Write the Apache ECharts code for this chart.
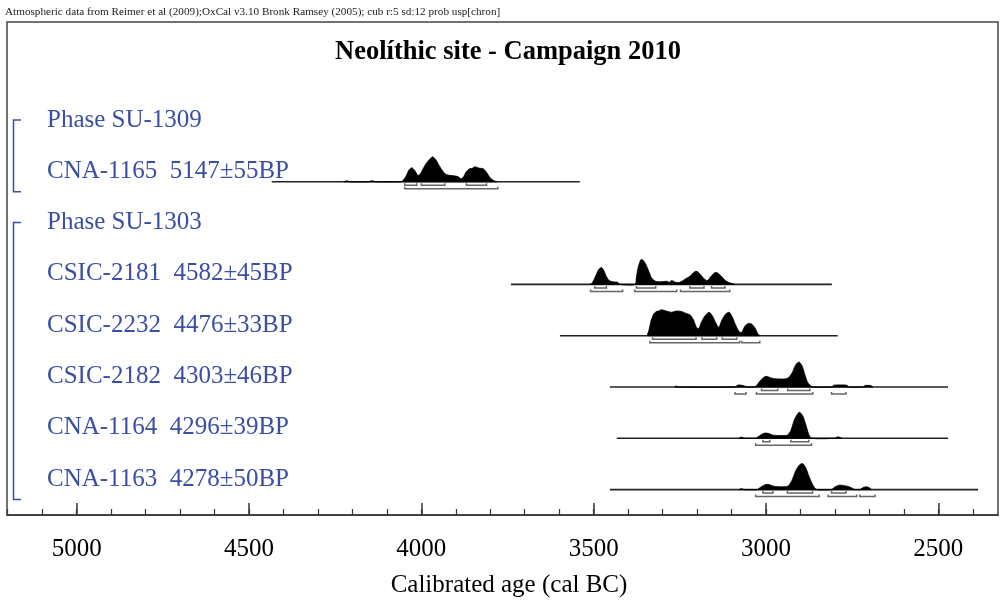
<!DOCTYPE html>
<html>
<head>
<meta charset="utf-8">
<script src="https://cdn.jsdelivr.net/npm/echarts@6/dist/echarts.min.js"></script>
<style>
html,body{margin:0;padding:0;background:#fff;}
#chart{width:1001px;height:601px;}
</style>
</head>
<body>
<div id="chart"></div>
<script>
// ---------- DATA ----------
const headerText = 'Atmospheric data from Reimer et al (2009);OxCal v3.10 Bronk Ramsey (2005); cub r:5 sd:12 prob usp[chron]';
const chartTitle = 'Neolíthic site - Campaign 2010';
const axisTitle = 'Calibrated age (cal BC)';
const rowLabels = ['Phase SU-1309', 'CNA-1165  5147±55BP', 'Phase SU-1303', 'CSIC-2181  4582±45BP',
  'CSIC-2232  4476±33BP', 'CSIC-2182  4303±46BP', 'CNA-1164  4296±39BP', 'CNA-1163  4278±50BP'];
const majorTicks = [5000, 4500, 4000, 3500, 3000, 2500];
const minorTicks = [5200, 5100, 5000, 4900, 4800, 4700, 4600, 4500, 4400, 4300, 4200, 4100, 4000, 3900, 3800, 3700, 3600, 3500, 3400, 3300, 3200, 3100, 3000, 2900, 2800, 2700, 2600, 2500, 2400];

// phases: [first row, last row]
const phaseSU1309 = [0, 1];
const phaseSU1303 = [2, 7];

// sample rows (index into rowLabels)
const sampleRows = [1, 3, 4, 5, 6, 7];
// plotted extents (cal BC, from, to)
const extentCNA1165 = [4434, 3540];
const extentCSIC2181 = [3740, 2809];
const extentCSIC2232 = [3598, 2792];
const extentCSIC2182 = [3453, 2472];
const extentCNA1164 = [3433, 2472];
const extentCNA1163 = [3453, 2385];

// relative probability (year cal BC, relative prob)
const probCNA1165 = [[4225,0],[4216,0.04],[4207,0],[4155,0],[4144,0.04],[4130,0],
  [4060,0],[4054,0.04],[4045,0.2],[4036,0.45],[4028,0.54],[4020,0.45],[4010,0.25],[4003,0.3],[3995,0.5],[3985,0.72],
  [3975,0.88],[3967,0.96],[3958,0.85],[3948,0.62],[3940,0.45],[3932,0.32],[3923,0.26],[3905,0.23],[3894,0.2],
  [3885,0.12],[3878,0.18],[3870,0.38],[3860,0.5],[3852,0.52],[3845,0.58],[3838,0.55],[3830,0.52],[3820,0.5],
  [3810,0.35],[3800,0.15],[3790,0.05],[3781,0]];
const probCSIC2181 = [[3510,0],[3503,0.08],[3495,0.3],[3485,0.58],[3477,0.65],[3470,0.52],[3463,0.3],[3455,0.15],
  [3445,0.1],[3430,0.08],[3424,0],
  [3380,0],[3376,0.3],[3370,0.7],[3363,0.95],[3356,0.92],[3348,0.75],[3340,0.5],[3332,0.25],[3320,0.12],
  [3305,0.1],[3289,0.12],[3280,0.08],[3274,0.15],[3262,0.08],[3250,0.08],[3235,0.2],[3220,0.32],[3208,0.48],
  [3200,0.5],[3190,0.38],[3180,0.22],[3170,0.15],[3160,0.3],[3150,0.44],[3142,0.45],[3130,0.32],[3118,0.15],
  [3105,0.06],[3090,0]];
const probCSIC2232 = [[3345,0],[3340,0.2],[3333,0.6],[3325,0.85],[3318,0.93],[3310,0.96],[3303,1.0],[3290,0.95],
  [3274,0.9],[3260,0.95],[3245,0.93],[3231,0.85],[3220,0.8],[3210,0.6],[3202,0.32],[3195,0.28],[3188,0.5],
  [3178,0.75],[3165,0.9],[3155,0.75],[3146,0.5],[3137,0.32],[3128,0.6],[3118,0.82],[3107,0.9],[3097,0.7],
  [3088,0.4],[3078,0.16],[3071,0.12],[3062,0.35],[3052,0.47],[3042,0.45],[3032,0.3],[3024,0.08],[3018,0]];
const probCSIC2182 = [[3265,0],[3260,0.04],[3255,0],[3092,0],[3080,0.08],[3065,0.05],[3053,0],
  [3035,0],[3028,0.05],[3018,0.22],[3008,0.36],[2999,0.41],[2988,0.36],[2975,0.32],[2960,0.31],[2945,0.31],
  [2935,0.36],[2924,0.55],[2914,0.85],[2904,0.96],[2895,0.8],[2888,0.5],[2878,0.15],[2864,0],
  [2808,0],[2804,0.07],[2765,0.07],[2760,0],[2720,0],[2712,0.06],[2695,0.05],[2690,0]];
const probCNA1164 = [[3078,0],[3071,0.05],[3064,0],[3030,0],[3024,0.05],[3014,0.14],[3004,0.2],[2994,0.19],
  [2982,0.13],[2970,0.11],[2950,0.11],[2937,0.13],[2928,0.3],[2918,0.7],[2908,0.95],[2902,1.0],[2893,0.85],
  [2884,0.5],[2876,0.15],[2867,0],[2800,0],[2792,0.06],[2780,0]];
const probCNA1163 = [[3078,0],[3071,0.04],[3064,0],[3025,0],[3020,0.05],[3010,0.14],[3000,0.2],[2990,0.19],
  [2978,0.13],[2960,0.11],[2945,0.11],[2935,0.15],[2925,0.35],[2914,0.72],[2903,0.95],[2894,1.0],[2885,0.85],
  [2875,0.5],[2865,0.2],[2853,0],
  [2810,0],[2806,0.04],[2798,0.12],[2788,0.17],[2775,0.16],[2762,0.12],[2752,0.07],[2742,0],
  [2728,0],[2720,0.07],[2710,0.11],[2700,0.07],[2694,0]];

// 68.2% and 95.4% ranges
const r68CNA1165 = [[4048,4013],[4000,3932],[3869,3811]];
const r95CNA1165 = [[4048,3778]];
const r68CSIC2181 = [[3497,3463],[3376,3320],[3221,3180],[3158,3119]];
const r95CSIC2181 = [[3509,3416],[3381,3259],[3248,3105]];
const r68CSIC2232 = [[3329,3203],[3186,3143],[3127,3085]];
const r95CSIC2232 = [[3337,3076],[3070,3018]];
const r68CSIC2182 = [[3013,2966],[2937,2873]];
const r95CSIC2182 = [[3090,3058],[3028,2864],[2810,2768]];
const r68CNA1164 = [[3009,2989],[2928,2876]];
const r95CNA1164 = [[3030,2868]];
const r68CNA1163 = [[3009,2980],[2938,2865],[2810,2768]];
const r95CNA1163 = [[3030,2846],[2820,2737],[2728,2684]];

// ---------- BUILD ----------
const samples = [
  {ext: extentCNA1165, prob: probCNA1165, r68: r68CNA1165, r95: r95CNA1165},
  {ext: extentCSIC2181, prob: probCSIC2181, r68: r68CSIC2181, r95: r95CSIC2181},
  {ext: extentCSIC2232, prob: probCSIC2232, r68: r68CSIC2232, r95: r95CSIC2232},
  {ext: extentCSIC2182, prob: probCSIC2182, r68: r68CSIC2182, r95: r95CSIC2182},
  {ext: extentCNA1164, prob: probCNA1164, r68: r68CNA1164, r95: r95CNA1164},
  {ext: extentCNA1163, prob: probCNA1163, r68: r68CNA1163, r95: r95CNA1163}
];
const phases = [phaseSU1309, phaseSU1303];

const X_MIN = 2327, X_MAX = 5202;
const BASE_OFF = 0.205;   // baseline below label centre, in row units
const DENS = 0.507;       // height of relative prob 1, in row units
const LABEL_BLUE = '#3b4ea3';
const SERIF = '"Liberation Serif", "Times New Roman", serif';

function renderSample(params, api) {
  const s = samples[params.dataIndex];
  const row = sampleRows[params.dataIndex];
  const base = row + BASE_OFF;
  const children = [];
  const a = api.coord([s.ext[0], base]);
  const b = api.coord([s.ext[1], base]);
  children.push({type: 'line', shape: {x1: a[0], y1: a[1], x2: b[0], y2: b[1]},
    style: {stroke: '#222', lineWidth: 1.6}});
  const pts = [api.coord([s.prob[0][0], base])];
  s.prob.forEach(p => pts.push(api.coord([p[0], base - p[1] * DENS])));
  pts.push(api.coord([s.prob[s.prob.length - 1][0], base]));
  children.push({type: 'polygon', shape: {points: pts, smooth: 0.25},
    style: {fill: '#000', stroke: '#000', lineWidth: 0.8}});
  const addBr = (ranges, dy) => {
    ranges.forEach(r => {
      const p1 = api.coord([r[0], base]);
      const p2 = api.coord([r[1], base]);
      const y = p1[1] + dy;
      children.push({type: 'polyline', shape: {points: [[p1[0], y - 2], [p1[0], y], [p2[0], y], [p2[0], y - 2]]},
        style: {stroke: '#666', lineWidth: 1.5, fill: null}});
    });
  };
  addBr(s.r68, 3.5);
  addBr(s.r95, 7);
  return {type: 'group', children: children};
}

function renderPhase(params, api) {
  const ph = phases[params.dataIndex];
  const top = api.coord([X_MAX, ph[0]]);
  const bot = api.coord([X_MAX, ph[1] + 0.4]);
  const x0 = top[0] + 6.5, x1 = top[0] + 14;
  return {type: 'polyline', shape: {points: [[x1, top[1]], [x0, top[1]], [x0, bot[1]], [x1, bot[1]]]},
    style: {stroke: LABEL_BLUE, lineWidth: 1.5, fill: null}};
}

const chart = echarts.init(document.getElementById('chart'), null, {renderer: 'canvas'});
chart.setOption({
  backgroundColor: '#fff',
  animation: false,
  grid: {left: 7, right: 3, top: 22, bottom: 86, show: true, borderColor: '#444', borderWidth: 1.5, containLabel: false},
  xAxis: [
    {type: 'value', inverse: true, min: X_MIN, max: X_MAX, position: 'bottom',
      axisLine: {show: true, onZero: false, lineStyle: {color: '#333', width: 1.5}},
      axisTick: {show: true, inside: true, length: 12, customValues: majorTicks, lineStyle: {color: '#333', width: 1.5}},
      axisLabel: {show: true, customValues: majorTicks, margin: 22, formatter: v => String(v),
        color: '#000', fontFamily: SERIF, fontSize: 25},
      splitLine: {show: false}},
    {type: 'value', inverse: true, min: X_MIN, max: X_MAX, position: 'bottom',
      axisLine: {show: false, onZero: false},
      axisTick: {show: true, inside: true, length: 6, customValues: minorTicks, lineStyle: {color: '#333', width: 1.2}},
      axisLabel: {show: false}, splitLine: {show: false}}
  ],
  yAxis: {type: 'value', inverse: true, min: -1.91, max: 7.70,
    axisLine: {show: false, onZero: false}, axisTick: {show: false}, splitLine: {show: false},
    axisLabel: {show: true, inside: true, margin: 40, align: 'left', customValues: [0, 1, 2, 3, 4, 5, 6, 7],
      formatter: v => rowLabels[Math.round(v)], color: LABEL_BLUE, fontFamily: SERIF, fontSize: 25}},
  graphic: [
    {type: 'text', left: 5, top: 7, style: {text: headerText, font: '11.2px ' + SERIF, fill: '#222'}},
    {type: 'text', x: 508, y: 52, style: {text: chartTitle, font: 'bold 26.5px ' + SERIF, fill: '#000', textAlign: 'center', textVerticalAlign: 'middle'}},
    {type: 'text', x: 509, y: 585, style: {text: axisTitle, font: '25px ' + SERIF, fill: '#000', textAlign: 'center', textVerticalAlign: 'middle'}}
  ],
  series: [
    {type: 'custom', coordinateSystem: 'cartesian2d', renderItem: renderSample, clip: false,
      data: sampleRows.map((r, i) => [samples[i].ext[0], r])},
    {type: 'custom', coordinateSystem: 'cartesian2d', renderItem: renderPhase, clip: false,
      data: phases.map(p => [X_MAX, p[0]])}
  ]
});
</script>
</body>
</html>
